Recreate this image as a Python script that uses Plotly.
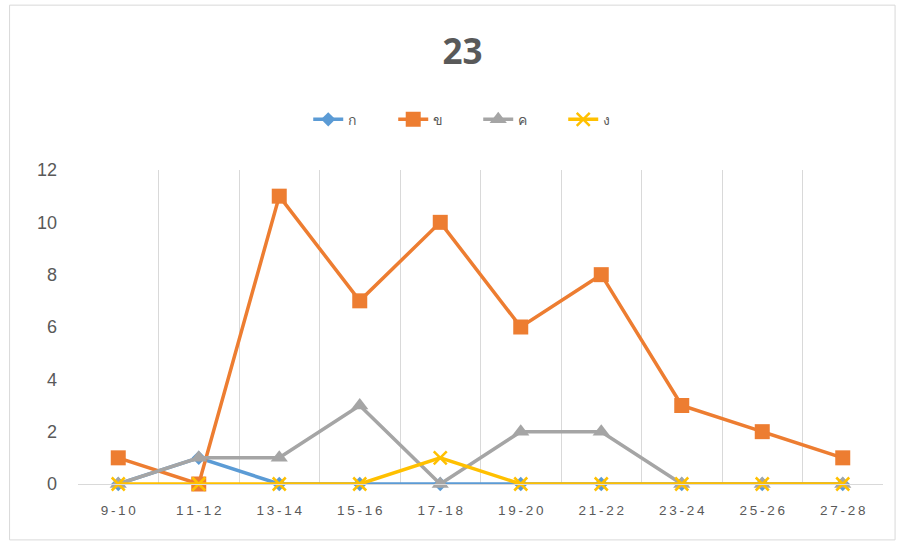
import plotly.graph_objects as go

categories = ["9-10", "11-12", "13-14", "15-16", "17-18", "19-20", "21-22", "23-24", "25-26", "27-28"]
series_names = ["ก", "ข", "ค", "ง"]
s_ko = [0, 1, 0, 0, 0, 0, 0, 0, 0, 0]
s_kho = [1, 0, 11, 7, 10, 6, 8, 3, 2, 1]
s_kho_khwai = [0, 1, 1, 3, 0, 2, 2, 0, 0, 0]
s_ngo = [0, 0, 0, 0, 1, 0, 0, 0, 0, 0]
y_ticks = [0, 2, 4, 6, 8, 10, 12]

x = list(range(len(categories)))
# excel spaces the category letters out a bit
tick_text = ["\u2009".join(c) for c in categories]

styles = [
    dict(color="#5B9BD5", symbol="diamond", size=11),
    dict(color="#ED7D31", symbol="square", size=15),
    dict(color="#A5A5A5", symbol="triangle-up", size=15),
    dict(color="#FFC000", symbol="x-thin", size=13),
]

fig = go.Figure()
for name, vals, st in zip(series_names, [s_ko, s_kho, s_kho_khwai, s_ngo], styles):
    marker = dict(symbol=st["symbol"], size=st["size"], color=st["color"])
    if st["symbol"] == "x-thin":
        marker["line"] = dict(color=st["color"], width=2.5)
    fig.add_trace(go.Scatter(
        x=x, y=vals, name=name, mode="lines+markers",
        line=dict(color=st["color"], width=3.5),
        marker=marker, cliponaxis=False,
    ))

fig.update_layout(
    width=907, height=544,
    margin=dict(l=78, r=24, t=170, b=60),
    paper_bgcolor="white", plot_bgcolor="white",
    font=dict(family="Liberation Sans, Noto Sans, sans-serif", color="#595959"),
    title=dict(text="<b>23</b>", x=0.51, xanchor="center", y=0.904, yanchor="middle",
               font=dict(size=35, color="#595959", family="Open Sans, sans-serif")),
    legend=dict(orientation="h", x=0.286, xanchor="left", y=1.16, yanchor="middle",
                font=dict(size=14, color="#595959"),
                entrywidth=40, entrywidthmode="pixels"),
    showlegend=True,
)

fig.update_xaxes(
    tickmode="array", tickvals=x, ticktext=tick_text,
    range=[-0.5, len(categories) - 0.5],
    showgrid=False, zeroline=False,
    showline=True, linecolor="#D9D9D9", linewidth=1,
    ticks="", tickfont=dict(size=13.5, color="#595959"), ticklabelstandoff=14,
    minor=dict(tickmode="array", tickvals=[i - 0.5 for i in range(len(categories) + 1)],
               showgrid=True, gridcolor="#D9D9D9", gridwidth=1, ticks=""),
)
fig.update_yaxes(
    tickmode="array", tickvals=y_ticks, range=[0, 12],
    showgrid=False, zeroline=False, showline=False,
    tickfont=dict(size=18, color="#595959"), ticks="", ticklabelstandoff=20,
)

fig.add_shape(type="rect", xref="paper", yref="paper",
              x0=-0.085, x1=1.015, y0=-0.178, y1=1.525,
              line=dict(color="#D9D9D9", width=1), layer="below")

fig.write_html("out.html", config={"displayModeBar": False},
               post_script="document.body.style.margin='0';")
